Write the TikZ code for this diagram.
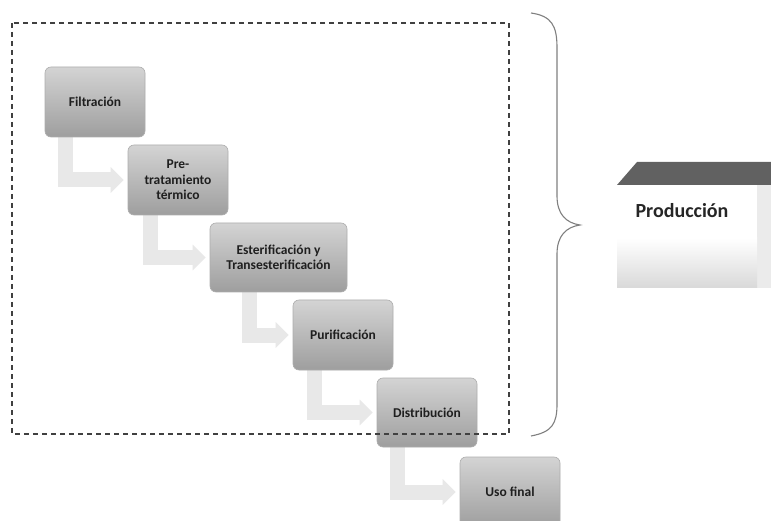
\documentclass[tikz,border=0pt]{standalone}
\usepackage{fontspec}
\setmainfont{Carlito}
\usetikzlibrary{arrows.meta,backgrounds}
\tikzset{
  stepbox/.style={draw=black!32, line width=0.6pt, rounded corners=6pt,
    top color=black!17, bottom color=black!38, text=black!88,
    font=\fontsize{13.5}{15.5}\selectfont\bfseries, align=center,
    minimum width=100pt, minimum height=70pt, inner sep=2pt},
  flowarrow/.style={line width=15pt, draw=black!9, line join=miter,
    -{Triangle[width=25pt,length=13pt]}},
  framebox/.style={draw=black!75, line width=1.1pt, dash pattern=on 5pt off 4pt},
  bracestyle/.style={draw=black!50, line width=1.1pt},
}
\begin{document}
\begin{tikzpicture}[x=1pt,y=-1pt]
\useasboundingbox (0,0) rectangle (771,521);

\node[stepbox] (f) at (95,102) {Filtración};
\node[stepbox] (p) at (178,180) {Pre-\\tratamiento\\térmico};
\node[stepbox, minimum width=137pt, minimum height=69pt] (e) at (278.5,257.5) {Esterificación y\\Transesterificación};
\node[stepbox] (u) at (343,335) {Purificación};
\node[stepbox, minimum height=69pt] (d) at (427,412.5) {Distribución};
\node[stepbox] (s) at (510,492) {Uso final};

\begin{scope}[on background layer]
\fill[white] (0,0) rectangle (771,521);
\draw[flowarrow] ([xshift=21pt]f.south west) |- ([xshift=-4pt]p.west);
\draw[flowarrow] ([xshift=23pt]p.south west) |- ([xshift=-4pt]e.west);
\draw[flowarrow] ([xshift=40pt]e.south west) |- ([xshift=-4pt]u.west);
\draw[flowarrow] ([xshift=22pt]u.south west) |- ([xshift=-4pt]d.west);
\draw[flowarrow] ([xshift=21pt]d.south west) |- ([xshift=-4pt]s.west);
\end{scope}

% dashed frame
\draw[framebox] (12,23) rectangle (509,434);

% brace
\draw[bracestyle] (531,13) .. controls (552,16) and (557,26) .. (557,48)
  -- (557,196) .. controls (557,214) and (566,223) .. (580,225)
  .. controls (566,227) and (557,236) .. (557,254)
  -- (557,404) .. controls (557,424) and (552,432) .. (531,436);

% Producción 3D box
\fill[black!8] (757,185) rectangle (771,288);
\fill[white] (617,185) rectangle (757,240);
\shade[top color=white, bottom color=black!15] (617,238) rectangle (757,288);
\fill[black!62] (617,185) -- (637,162) -- (771,162) -- (771,185) -- cycle;
\node[font=\fontsize{20}{24}\selectfont\bfseries, text=black!85] (prod) at (682,211) {Producción};
\end{tikzpicture}
\end{document}
